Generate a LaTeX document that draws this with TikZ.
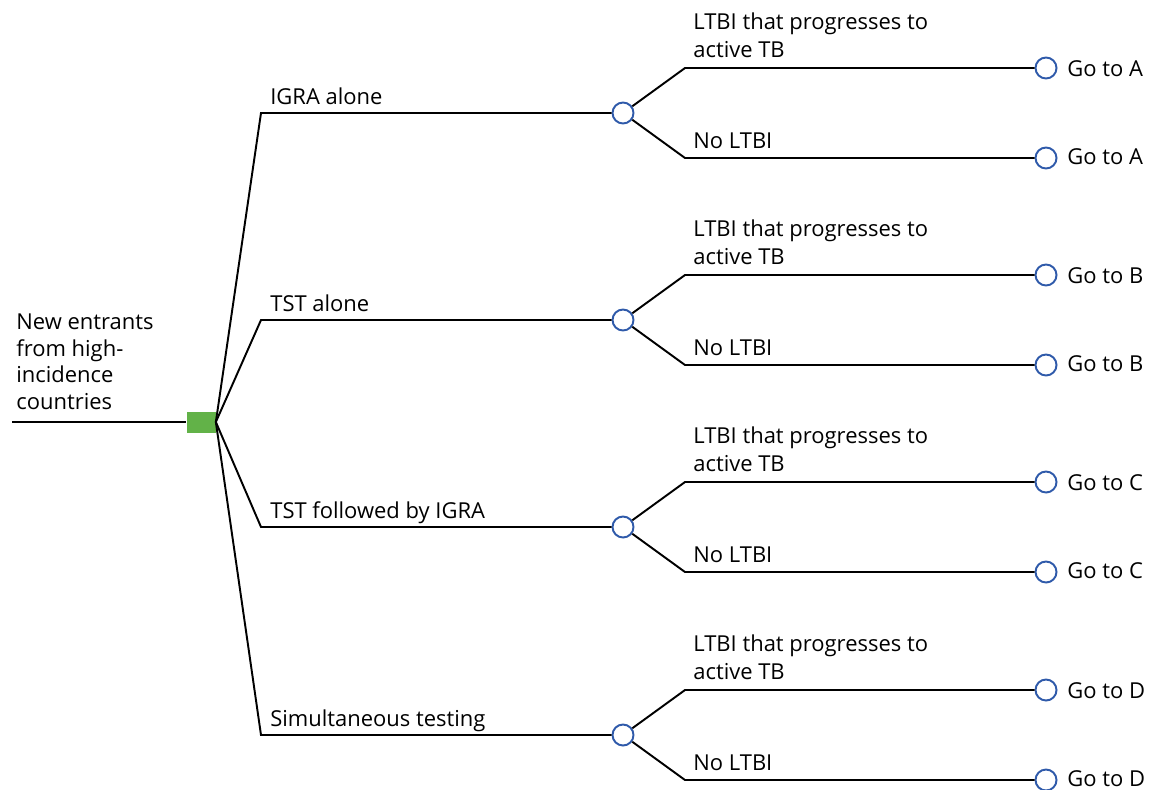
\documentclass[tikz,border=0pt]{standalone}
\usepackage{fontspec}
\setmainfont{Open Sans}
\usepackage{tikz}
\usetikzlibrary{positioning}

\begin{document}
\begin{tikzpicture}[x=0.02cm, y=-0.02cm,
    ramo/.style={line width=1.1pt, black},
    decisione/.style={rectangle, fill=verde, minimum width=0.58cm, minimum height=0.42cm, inner sep=0pt},
    caso/.style={circle, draw=blu, line width=1.1pt, fill=white, minimum size=0.42cm, inner sep=0pt},
    testo/.style={anchor=base west, font=\fontsize{12.5}{15}\selectfont, inner sep=0pt}]
        % Colori dei nodi
        \definecolor{verde}{RGB}{98,178,72}
        \definecolor{blu}{RGB}{47,90,170}
        \useasboundingbox (0,0) rectangle (1151,789);

        % Radice dell'albero
        \coordinate (inizio) at (12,422);
        \node[decisione] (dec) at (201,422) {};
        \draw[ramo] (inizio) -- (dec);
        \node at (16,410) [anchor=south west, align=left, inner sep=0pt, font=\fontsize{12.5}{15.1}\selectfont]{New entrants\\from high-\\incidence\\countries};

        % Strategie di test
        \foreach \i/\y/\nome/\fine in {1/113/IGRA alone/A, 2/320/TST alone/B, 3/527/TST followed by IGRA/C, 4/735/Simultaneous testing/D} {
            \coordinate (g\i) at (261,\y);
            \node[caso] (c\i) at (623,\y) {};
            \draw[ramo] (dec.east) -- (g\i) -- (c\i);
            \node[testo] (s\i) at (270,\y-9) {\nome};

            % Esiti
            \coordinate (su\i) at (685,\y-45);
            \coordinate (giu\i) at (685,\y+45);
            \node[caso] (fa\i) at (1046,\y-45) {};
            \node[caso] (fb\i) at (1046,\y+45) {};
            \draw[ramo] (c\i) -- (su\i) -- (fa\i);
            \draw[ramo] (c\i) -- (giu\i) -- (fb\i);
            \node[testo] (ea\i) at (693,\y-45-39) {LTBI that progresses to};
            \node[testo] (eb\i) at (693,\y-45-11) {active TB};
            \node[testo] (en\i) at (693,\y+45-10) {No LTBI};
            \node[testo] (va\i) at (1067,\y-45+8) {Go to \fine};
            \node[testo] (vb\i) at (1067,\y+45+6) {Go to \fine};
        }
    \end{tikzpicture}
\end{document}
